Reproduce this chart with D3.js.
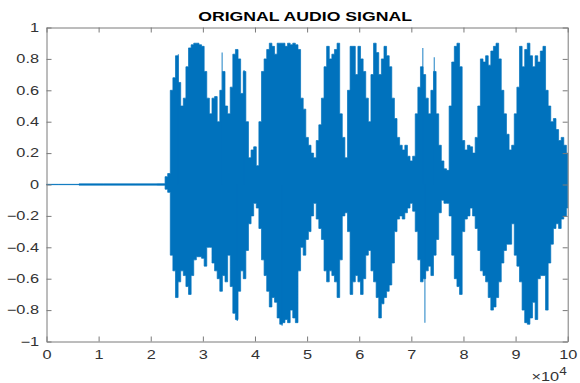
<!DOCTYPE html>
<html>
<head>
<meta charset="utf-8">
<script src="https://cdn.jsdelivr.net/npm/d3@7"></script>
<style>
  html, body { margin: 0; padding: 0; background: #fff; }
  svg { display: block; font-family: "Liberation Sans", Arial, Helvetica, sans-serif; }
</style>
</head>
<body>
<svg id="chart" width="580" height="383"></svg>
<script>
// ---- data (x in units of 10^4 samples) ----
const title = "ORIGNAL AUDIO SIGNAL"
const xTicks = [0, 1, 2, 3, 4, 5, 6, 7, 8, 9, 10]
const yTicks = [-1, -0.8, -0.6, -0.4, -0.2, 0, 0.2, 0.4, 0.6, 0.8, 1]

// near-silent lead-in
const quietX  = [0, 0.45, 0.8, 1.4, 2.0, 2.25]
const quietUp = [0.001, 0.001, 0.004, 0.004, 0.004, 0.005]
const quietLo = [-0.001, -0.001, -0.004, -0.004, -0.004, -0.005]

// envelope of the signal, read every 0.05 from 2.30 to 10.00
const envStart = 2.30, envStep = 0.05
const envUpper = [
  0.05,0.07,0.60,0.68,0.82,0.65,0.50,0.55,0.75,0.87,
  0.89,0.90,0.90,0.89,0.88,0.72,0.55,0.45,0.55,0.56,
  0.40,0.60,0.72,0.50,0.45,0.62,0.83,0.86,0.80,0.58,
  0.72,0.40,0.17,0.22,0.24,0.12,0.40,0.72,0.80,0.86,
  0.90,0.88,0.83,0.90,0.90,0.90,0.88,0.90,0.89,0.90,
  0.89,0.86,0.55,0.48,0.30,0.25,0.20,0.17,0.28,0.38,
  0.55,0.75,0.88,0.80,0.83,0.86,0.90,0.45,0.30,0.17,
  0.60,0.88,0.88,0.70,0.88,0.80,0.72,0.55,0.40,0.70,
  0.90,0.84,0.70,0.80,0.88,0.82,0.75,0.55,0.42,0.30,
  0.25,0.22,0.25,0.18,0.15,0.18,0.45,0.62,0.75,0.70,
  0.55,0.45,0.60,0.72,0.45,0.25,0.15,0.10,0.09,0.50,
  0.78,0.88,0.90,0.75,0.28,0.22,0.25,0.24,0.20,0.30,
  0.50,0.80,0.78,0.82,0.76,0.85,0.88,0.90,0.80,0.60,
  0.45,0.32,0.22,0.25,0.45,0.62,0.88,0.75,0.86,0.90,
  0.82,0.75,0.82,0.78,0.85,0.88,0.60,0.50,0.40,0.42,
  0.35,0.28,0.30,0.25,0.20
]
const envLower = [
  -0.03,-0.05,-0.45,-0.55,-0.72,-0.62,-0.55,-0.58,-0.65,-0.70,
  -0.58,-0.48,-0.46,-0.46,-0.47,-0.52,-0.40,-0.40,-0.50,-0.55,
  -0.60,-0.68,-0.58,-0.62,-0.45,-0.65,-0.82,-0.86,-0.68,-0.55,
  -0.60,-0.42,-0.25,-0.20,-0.12,-0.15,-0.28,-0.48,-0.58,-0.68,
  -0.78,-0.72,-0.75,-0.85,-0.89,-0.88,-0.86,-0.88,-0.80,-0.85,
  -0.88,-0.55,-0.40,-0.45,-0.35,-0.30,-0.20,-0.12,-0.22,-0.28,
  -0.35,-0.55,-0.62,-0.55,-0.58,-0.62,-0.72,-0.48,-0.20,-0.18,
  -0.30,-0.70,-0.62,-0.58,-0.62,-0.70,-0.60,-0.45,-0.42,-0.55,
  -0.62,-0.72,-0.85,-0.76,-0.72,-0.68,-0.64,-0.50,-0.30,-0.22,
  -0.20,-0.22,-0.18,-0.15,-0.12,-0.17,-0.30,-0.48,-0.62,-0.60,
  -0.55,-0.52,-0.58,-0.45,-0.35,-0.18,-0.10,-0.12,-0.12,-0.20,
  -0.45,-0.60,-0.65,-0.70,-0.30,-0.22,-0.20,-0.15,-0.20,-0.28,
  -0.42,-0.55,-0.58,-0.62,-0.72,-0.80,-0.78,-0.72,-0.62,-0.50,
  -0.42,-0.38,-0.38,-0.25,-0.45,-0.52,-0.62,-0.80,-0.88,-0.89,
  -0.85,-0.75,-0.86,-0.60,-0.58,-0.58,-0.80,-0.50,-0.38,-0.28,
  -0.25,-0.28,-0.22,-0.20,-0.15
]

// isolated peaks that stick out of the envelope
const spikeX = [2.53, 3.37, 3.79, 7.22, 7.44, 7.26, 3.66, 4.52]
const spikeY = [0.83, 0.84, 0.73, 0.87, 0.81, -0.88, -0.87, -0.90]

// ---- layout ----
const svg = d3.select("#chart")
const plot = {left: 46.5, right: 567.7, top: 27.5, bottom: 341.5}
const axisColor = "#7a7a7a"
const labelColor = "#333"
const lineColor = "#0072BD"
const stretch = 1.36   // the reference text is drawn wide

const xScale = d3.scaleLinear().domain([0, 10]).range([plot.left, plot.right])
const yScale = d3.scaleLinear().domain([-1, 1]).range([plot.bottom, plot.top])

// assemble envelope points
let pts = quietX.map((x, i) => ({x: x, hi: quietUp[i], lo: quietLo[i]}))
envUpper.forEach((v, i) => {
	pts.push({x: envStart + i * envStep, hi: v, lo: envLower[i]})
})

const area = d3.area()
	.x(d => xScale(d.x))
	.y0(d => yScale(d.lo))
	.y1(d => yScale(d.hi))
	.curve(d3.curveStep)

svg.append("path")
	.datum(pts)
	.attr("d", area)
	.attr("fill", lineColor)
	.attr("stroke", lineColor)
	.attr("stroke-width", 0.7)

svg.append("g").selectAll("line")
	.data(spikeX.map((x, i) => ({x: x, y: spikeY[i]})))
	.join("line")
	.attr("x1", d => xScale(d.x)).attr("x2", d => xScale(d.x))
	.attr("y1", yScale(0)).attr("y2", d => yScale(d.y))
	.attr("stroke", lineColor)
	.attr("stroke-opacity", 0.75)
	.attr("stroke-width", 1.2)

// ---- axes (MATLAB style: ticks inward, full box) ----
function styleAxis(g){
	g.selectAll("path").attr("stroke", axisColor).attr("stroke-width", 1)
	g.selectAll("line").attr("stroke", axisColor).attr("stroke-width", 1)
	g.selectAll("text")
		.attr("fill", labelColor)
		.style("font-size", "12px")
		.style("font-family", "'Liberation Sans', Arial, sans-serif")
		.each(function(){
			// widen glyphs around their own anchor
			const t = d3.select(this)
			const x = +t.attr("x") || 0
			const y = +t.attr("y") || 0
			t.attr("x", 0).attr("y", 0)
				.attr("transform", "translate(" + x + "," + y + ") scale(" + stretch + ",1)")
		})
}

svg.append("g")
	.attr("transform", "translate(0," + plot.bottom + ")")
	.call(d3.axisBottom(xScale).tickValues(xTicks).tickFormat(d3.format("d"))
		.tickSizeInner(-5).tickSizeOuter(0).tickPadding(9))
	.call(styleAxis)

svg.append("g")
	.attr("transform", "translate(0," + plot.top + ")")
	.call(d3.axisTop(xScale).tickValues(xTicks).tickFormat("")
		.tickSizeInner(-5).tickSizeOuter(0))
	.call(styleAxis)

svg.append("g")
	.attr("transform", "translate(" + plot.left + ",0)")
	.call(d3.axisLeft(yScale).tickValues(yTicks).tickFormat(d => d3.format("")(+d.toFixed(1)))
		.tickSizeInner(-5).tickSizeOuter(0).tickPadding(7.5))
	.call(styleAxis)

svg.append("g")
	.attr("transform", "translate(" + plot.right + ",0)")
	.call(d3.axisRight(yScale).tickValues(yTicks).tickFormat("")
		.tickSizeInner(-5).tickSizeOuter(0))
	.call(styleAxis)

// exponent label
const expo = svg.append("text")
	.attr("transform", "translate(" + (plot.right - 1) + ",380.5) scale(" + stretch + ",1)")
	.attr("text-anchor", "end")
	.attr("fill", labelColor)
	.style("font-size", "12px")
expo.append("tspan").text("\u00d7")
expo.append("tspan").text("10")
expo.append("tspan").attr("dy", -6).style("font-size", "10px").text("4")

// title
svg.append("text")
	.attr("transform", "translate(" + ((plot.left + plot.right) / 2 - 2) + ",20.5) scale(" + stretch + ",1)")
	.attr("text-anchor", "middle")
	.attr("fill", "#000")
	.style("font-size", "13px")
	.style("font-weight", "bold")
	.text(title)
</script>
</body>
</html>
